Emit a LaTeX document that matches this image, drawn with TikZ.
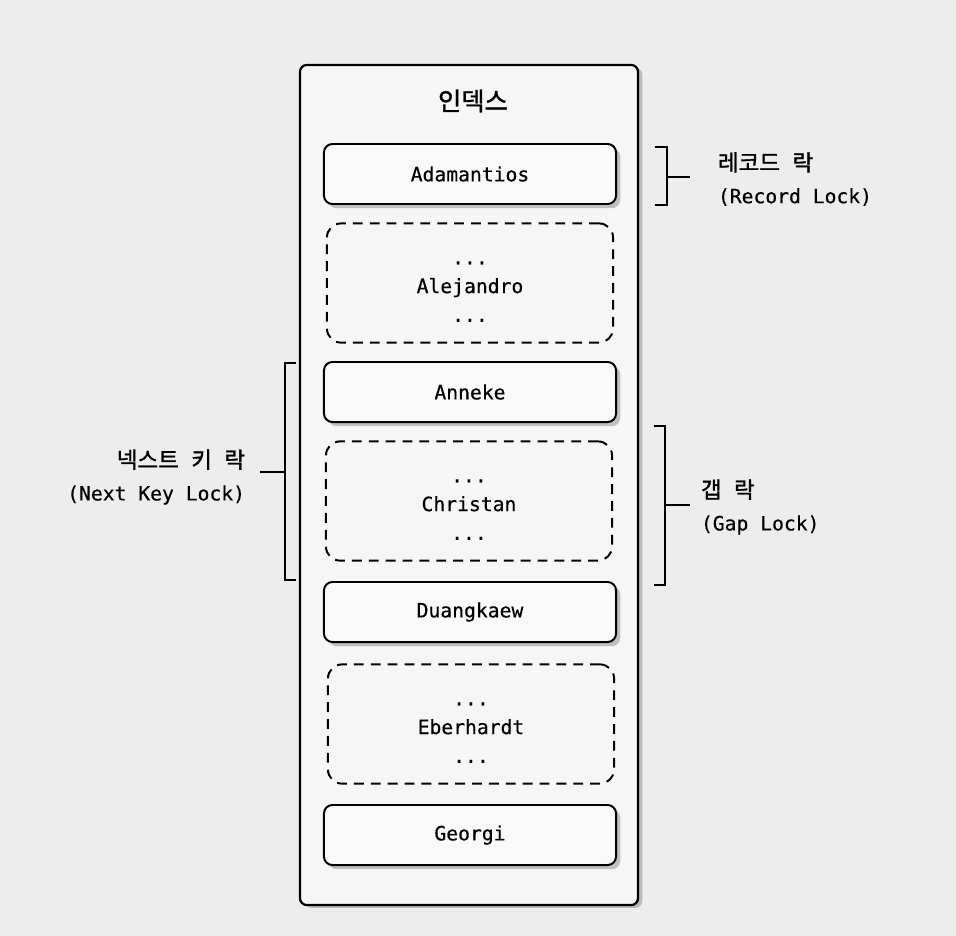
\documentclass[tikz,border=0pt]{standalone}
\usepackage{fontspec}
\setmonofont[FakeBold=0.5]{DejaVu Sans Mono}
\newfontfamily\cjk[FakeBold=1.3]{Noto Sans CJK KR}
\usetikzlibrary{shadows}
\newcommand{\wsp}{\hspace{0.55em}}
\tikzset{
  index/.style = {draw, line width=1.6pt, rounded corners=5pt, fill=gray!7,
    minimum width=8.45cm, minimum height=21cm,
    drop shadow={opacity=0.45, shadow xshift=3pt, shadow yshift=-2pt}},
  record/.style = {draw, line width=1.4pt, rounded corners=6pt, fill=gray!5,
    minimum width=7.3cm, minimum height=1.5cm,
    font=\ttfamily\fontsize{14}{16}\selectfont,
    drop shadow={opacity=0.45, shadow xshift=3pt, shadow yshift=-3pt}},
  gap/.style = {draw, line width=1.4pt, dash pattern=on 7pt off 5pt,
    rounded corners=10pt, minimum width=7.15cm, minimum height=2.98cm,
    align=center, font=\ttfamily\fontsize{14}{20.5}\selectfont},
  brace/.style = {line width=1.7pt},
  lockname/.style = {font=\ttfamily\fontsize{14}{23}\selectfont}
}
\begin{document}
\begin{tikzpicture}[x=0.025cm, y=-0.025cm]
\useasboundingbox[fill=gray!14] (0,0) rectangle (956,936);
% the index and its entries
\node at (469,485) [index](Idx){};
\node at (473,101) (Title){\cjk\fontsize{18}{20}\selectfont 인덱스};
\node at (470,174) [record](R1){Adamantios};
\node at (470,283) [gap](G1){\strut...\\Alejandro\\...};
\node at (470,392) [record](R2){Anneke};
\node at (469,501) [gap](G2){\strut...\\Christan\\...};
\node at (470,612) [record](R3){Duangkaew};
\node at (471,724) [gap](G3){\strut...\\Eberhardt\\...};
\node at (470,835) [record](R4){Georgi};
% record lock
\coordinate (RecTop) at (655,147);
\coordinate (RecMid) at (667,177);
\coordinate (RecBot) at (655,205);
\draw[brace] (RecTop) -| (RecMid) |- (RecBot);
\draw[brace] (RecMid) -- ++(23,0);
\node at (713,179) [lockname, anchor=west, align=left](RecLock){{\cjk\fontsize{16}{18}\selectfont 레코드\wsp 락}\\(Record Lock)};
% next key lock
\coordinate (NextTop) at (296,363);
\coordinate (NextMid) at (285,472);
\coordinate (NextBot) at (296,580);
\draw[brace] (NextTop) -| (NextMid) |- (NextBot);
\draw[brace] (NextMid) -- ++(-25,0);
\node at (250,477) [lockname, anchor=east, align=right](NextLock){{\cjk\fontsize{16}{18}\selectfont 넥스트\wsp 키\wsp 락}\\(Next Key Lock)};
% gap lock
\coordinate (GapTop) at (654,426);
\coordinate (GapMid) at (665,505);
\coordinate (GapBot) at (654,585);
\draw[brace] (GapTop) -| (GapMid) |- (GapBot);
\draw[brace] (GapMid) -- ++(25,0);
\node at (696,507) [lockname, anchor=west, align=left](GapLock){{\cjk\fontsize{16}{18}\selectfont 갭\wsp 락}\\(Gap Lock)};
\end{tikzpicture}
\end{document}
